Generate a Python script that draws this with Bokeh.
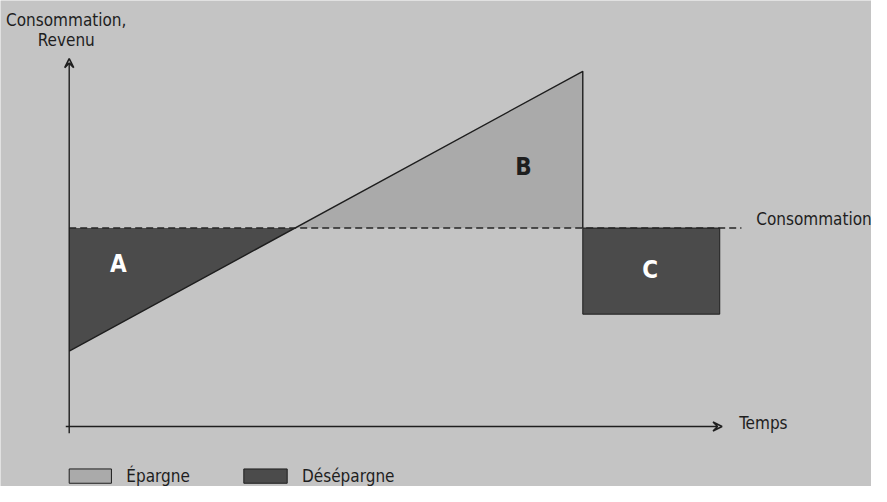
from bokeh.plotting import figure
from bokeh.models import Range1d, Arrow, VeeHead
from bokeh.core.properties import value
from bokeh.embed import file_html
from bokeh.resources import INLINE

# ---- data (schematic units: time and consumption/income) ----
t_start = 0.0
t_cross = 19.8
t_retire = 45.0
t_death = 57.0
t_axis_end = 57.2
t_dash_end = 58.9
y_axis_top = 92.7

consumption = 50.0
income_start = 19.0
income_retire = 89.5
pension = 28.3

zone_labels = ["A", "B", "C"]
legend_labels = ["Épargne", "Désépargne"]

BG = "#c4c4c4"
LIGHT = "#aaaaaa"
DARK = "#4b4b4b"
INK = "#1e1e1e"
FONT = "DejaVu Sans Condensed"

W, H = 871, 486
# scale (px per unit) and origin position inside the canvas
kx = 11.413
ky = 3.969
ox, oy = 68.7, 426.0
x0 = -ox / kx
x1 = (W - ox) / kx
y1 = oy / ky
y0 = -(H - oy) / ky

p = figure(width=W, height=H, output_backend="svg", toolbar_location=None,
           x_range=Range1d(x0, x1), y_range=Range1d(y0, y1), min_border=0)
p.axis.visible = False
p.grid.visible = False
p.outline_line_color = None
p.background_fill_color = BG
p.border_fill_color = BG

# Zone A (dissaving, early)
p.patch([t_start, t_start, t_cross], [consumption, income_start, consumption],
        fill_color=DARK, line_color=None)
# Zone B (saving)
p.patch([t_cross, t_retire, t_retire], [consumption, income_retire, consumption],
        fill_color=LIGHT, line_color=None)
# Zone C (dissaving, retirement)
p.quad(left=t_retire, right=t_death, top=consumption, bottom=pension,
       fill_color=DARK, line_color=INK, line_width=1)

# Income line
p.line([t_start, t_retire, t_retire], [income_start, income_retire, consumption],
       line_color=INK, line_width=1.4)

# Consumption dashed line
p.line([t_start, t_dash_end], [consumption, consumption], line_color="#262626",
       line_width=1.5, line_dash="7 4")

# Axes with arrows
p.add_layout(Arrow(end=VeeHead(size=9, line_color=INK, line_width=1.6, fill_color=None),
                   x_start=0, y_start=-1.7, x_end=0, y_end=y_axis_top,
                   line_color=INK, line_width=1.4))
p.add_layout(Arrow(end=VeeHead(size=9, line_color=INK, line_width=1.6, fill_color=None),
                   x_start=-0.3, y_start=0, x_end=t_axis_end, y_end=0,
                   line_color=INK, line_width=1.4))

# Zone letters
p.text(x=[4.3, 39.8, 50.9], y=[41.0, 65.4, 39.5], text=zone_labels,
       text_color=["white", INK, "white"], text_font=value(FONT),
       text_font_size="24px", text_font_style="bold",
       text_align="center", text_baseline="middle")

# Axis titles
p.text(x=[-0.26, -0.26], y=[102.4, 97.3], text=["Consommation,", "Revenu"],
       text_color=INK, text_font=value(FONT), text_font_size="17px",
       text_align="center", text_baseline="middle")
p.text(x=[58.7], y=[1.0], text=["Temps"], text_color=INK, text_font=value(FONT),
       text_font_size="17px", text_align="left", text_baseline="middle")
p.text(x=[60.2], y=[52.4], text=["Consommation"], text_color=INK, text_font=value(FONT),
       text_font_size="17px", text_align="left", text_baseline="middle")

# Legend (custom swatches + labels)
leg_y = -12.5
p.quad(left=[0.0, 15.3], right=[3.7, 19.1], top=[leg_y + 1.8, leg_y + 1.8],
       bottom=[leg_y - 1.8, leg_y - 1.8], fill_color=[LIGHT, DARK],
       line_color=INK, line_width=1)
p.text(x=[5.0, 20.4], y=[leg_y, leg_y], text=legend_labels, text_color=INK,
       text_font=value(FONT), text_font_size="17px",
       text_align="left", text_baseline="middle")

open("out.html", "w").write(file_html(p, INLINE))
